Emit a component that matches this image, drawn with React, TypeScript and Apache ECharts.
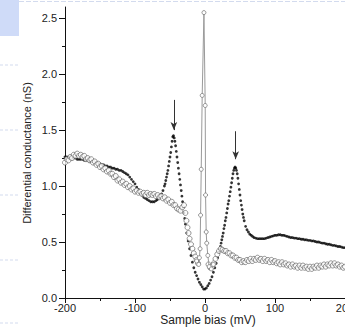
import React, { useEffect, useRef } from "react";
import * as echarts from "echarts";

// Sample bias (mV) vs differential conductance (nS)
const filledDots: [number, number][] = [
  [-200,1.26],[-197.5,1.26],[-195,1.26],[-192.5,1.25],[-190,1.25],[-187.5,1.25],[-185,1.25],[-182.5,1.24],[-180,1.24],[-177.5,1.24],
  [-175,1.24],[-172.5,1.23],[-170,1.23],[-167.5,1.23],[-165,1.22],[-162.5,1.22],[-160,1.22],[-157.5,1.21],[-155,1.21],[-152.5,1.2],
  [-150,1.2],[-147.5,1.19],[-145,1.19],[-142.5,1.18],[-140,1.18],[-137.5,1.17],[-135,1.17],[-132.5,1.16],[-130,1.16],[-127.5,1.15],
  [-125,1.15],[-122.5,1.14],[-120,1.14],[-117.5,1.13],[-115,1.12],[-112.5,1.11],[-110,1.1],[-107.5,1.08],[-105,1.06],[-102.5,1.04],
  [-100,1.02],[-97.5,0.99],[-95,0.97],[-92.5,0.94],[-90,0.92],[-87.5,0.9],[-85,0.89],[-82.5,0.88],[-80,0.87],[-77.5,0.86],
  [-75,0.86],[-72.5,0.86],[-70,0.87],[-68,0.88],[-66,0.89],[-64,0.91],[-62,0.93],[-60,0.96],[-58,1.0],[-57,1.02],
  [-56,1.05],[-55,1.08],[-54,1.11],[-53,1.14],[-52,1.18],[-51,1.22],[-50,1.26],[-49,1.3],[-48,1.35],[-47,1.4],
  [-46,1.44],[-45,1.45],[-44,1.43],[-43,1.4],[-42,1.36],[-41,1.31],[-40,1.26],[-39,1.21],[-38,1.16],[-37,1.11],
  [-36,1.06],[-35,1.01],[-34,0.96],[-33,0.91],[-32,0.86],[-31,0.81],[-30,0.76],[-29,0.71],[-28,0.66],[-26,0.58],
  [-24,0.51],[-22,0.44],[-20,0.38],[-18,0.32],[-16,0.27],[-14,0.23],[-12,0.2],[-10,0.17],[-8,0.14],[-6,0.12],
  [-4,0.1],[-2,0.08],[0,0.08],[2,0.09],[4,0.11],[6,0.13],[8,0.16],[10,0.19],[12,0.23],[14,0.27],
  [16,0.31],[18,0.36],[20,0.41],[22,0.46],[23,0.49],[24,0.52],[25,0.55],[26,0.58],[27,0.62],[28,0.65],
  [29,0.69],[30,0.72],[31,0.76],[32,0.8],[33,0.84],[34,0.87],[35,0.91],[36,0.95],[37,0.99],[38,1.03],
  [39,1.07],[40,1.11],[41,1.14],[42,1.16],[43,1.17],[44,1.16],[45,1.14],[46,1.11],[47,1.07],[48,1.02],
  [49,0.97],[50,0.92],[51,0.87],[52,0.83],[53,0.79],[54,0.75],[55,0.72],[56,0.69],[58,0.64],[60,0.61],
  [62,0.59],[64,0.57],[66,0.56],[68,0.55],[70,0.54],[72.5,0.535],[75,0.53],[77.5,0.53],[80,0.53],[82.5,0.53],
  [85,0.53],[87.5,0.535],[90,0.54],[92.5,0.545],[95,0.55],[97.5,0.555],[100,0.56],[102.5,0.56],[105,0.565],[107.5,0.565],
  [110,0.56],[112.5,0.56],[115,0.555],[117.5,0.55],[120,0.545],[122.5,0.54],[125,0.54],[127.5,0.535],[130,0.535],[132.5,0.53],
  [135,0.53],[137.5,0.525],[140,0.525],[142.5,0.52],[145,0.52],[147.5,0.515],[150,0.515],[152.5,0.51],[155,0.51],[157.5,0.505],
  [160,0.5],[162.5,0.5],[165,0.495],[167.5,0.49],[170,0.49],[172.5,0.485],[175,0.48],[177.5,0.48],[180,0.475],[182.5,0.47],
  [185,0.47],[187.5,0.465],[190,0.46],[192.5,0.46],[195,0.455],[197.5,0.45],[200,0.45],
];

const openLeft: [number, number][] = [
  [-200,1.21],[-197.5,1.24],[-195,1.23],[-192.5,1.26],[-190,1.25],[-187.5,1.28],[-185,1.27],[-182.5,1.29],[-180,1.27],[-177.5,1.28],
  [-175,1.26],[-172.5,1.27],[-170,1.24],[-167.5,1.25],[-165,1.23],[-162.5,1.24],[-160,1.21],[-157.5,1.22],[-155,1.19],[-152.5,1.2],
  [-150,1.17],[-147.5,1.18],[-145,1.15],[-142.5,1.16],[-140,1.13],[-137.5,1.14],[-135,1.11],[-132.5,1.11],[-130,1.08],[-127.5,1.09],
  [-125,1.05],[-122.5,1.06],[-120,1.03],[-117.5,1.04],[-115,1.01],[-112.5,1.02],[-110,0.99],[-107.5,1.0],[-105,0.97],[-102.5,0.98],
  [-100,0.95],[-97.5,0.96],[-95,0.94],[-92.5,0.95],[-90,0.93],[-87.5,0.94],[-85,0.92],[-82.5,0.94],[-80,0.92],[-77.5,0.93],
  [-75,0.92],[-72.5,0.93],[-70,0.91],[-67.5,0.92],[-65,0.9],[-62.5,0.91],[-60,0.89],[-57.5,0.9],[-55,0.87],[-52.5,0.88],
  [-50,0.85],[-47.5,0.86],[-45,0.83],[-42.5,0.83],[-40,0.8],[-37.5,0.79],[-35,0.78],[-32.5,0.81],[-30,0.83],[-28,0.76],
  [-26.5,0.69],[-25,0.63],[-23.5,0.58],[-22,0.53],[-20,0.48],[-18,0.44],[-16,0.4],[-14,0.37],[-12,0.34],[-10,0.31],
];

const openRight: [number, number][] = [
  [5,0.3],[7.5,0.27],[10,0.28],[12.5,0.31],[15,0.35],[17.5,0.39],[20,0.42],[22.5,0.44],[25,0.43],[27.5,0.42],
  [30,0.42],[32.5,0.4],[35,0.4],[37.5,0.38],[40,0.38],[42.5,0.36],[45,0.36],[47.5,0.34],[50,0.34],[52.5,0.32],
  [55,0.33],[57.5,0.32],[60,0.34],[62.5,0.33],[65,0.35],[67.5,0.33],[70,0.35],[72.5,0.34],[75,0.36],[77.5,0.34],
  [80,0.35],[82.5,0.33],[85,0.35],[87.5,0.33],[90,0.34],[92.5,0.32],[95,0.34],[97.5,0.32],[100,0.33],[102.5,0.31],
  [105,0.32],[107.5,0.3],[110,0.32],[112.5,0.3],[115,0.31],[117.5,0.29],[120,0.3],[122.5,0.28],[125,0.3],[127.5,0.28],
  [130,0.29],[132.5,0.27],[135,0.29],[137.5,0.27],[140,0.29],[142.5,0.27],[145,0.28],[147.5,0.26],[150,0.28],[152.5,0.26],
  [155,0.28],[157.5,0.27],[160,0.29],[162.5,0.27],[165,0.29],[167.5,0.28],[170,0.3],[172.5,0.28],[175,0.3],[177.5,0.29],
  [180,0.31],[182.5,0.29],[185,0.31],[187.5,0.29],[190,0.3],[192.5,0.28],[195,0.29],[197.5,0.27],[200,0.28],
];

const zeroBiasPeak: [number, number][] = [
  [-12,0.33],[-9,0.3],[-8,0.36],[-7,0.44],[-6.3,0.74],[-5.4,1.15],[-4,1.81],[-1.5,2.55],[0.3,1.72],[0.8,0.92],
  [1.7,0.59],[2.5,0.49],[4,0.38],[6,0.28],[9,0.26],[12,0.3],
];

// arrows marking the coherence peaks: [bias, y start, y end]
const arrowMarks: [number, number, number][] = [
  [-44.5, 1.77, 1.5],
  [43.8, 1.49, 1.24],
];

const yTicks = [0, 0.5, 1.0, 1.5, 2.0, 2.5];

const FONT = "Liberation Sans, Arial, Helvetica, sans-serif";

export default function App() {
  const ref = useRef<HTMLDivElement>(null);
  useEffect(() => {
    if (!ref.current) return;
    const chart = echarts.init(ref.current, undefined, { renderer: "svg" });
    const faint = "#d3dbee";
    const openStyle = { color: "#ffffff", borderColor: "#5a5a5a", borderWidth: 0.8 };
    chart.setOption({
      animation: false,
      backgroundColor: "#ffffff",
      textStyle: { fontFamily: FONT },
      grid: { left: 65, right: 0, top: 7, bottom: 33, containLabel: false, outerBoundsMode: "none" },
      xAxis: {
        type: "value",
        min: -200,
        max: 200,
        interval: 100,
        axisLine: { show: true, onZero: false, lineStyle: { color: "#111", width: 1 } },
        axisTick: { show: true, inside: false, length: 5, lineStyle: { color: "#111" } },
        minorTick: { show: true, splitNumber: 2, length: 3, lineStyle: { color: "#111" } },
        splitLine: { show: false },
        axisLabel: { color: "#222", fontSize: 11, margin: 4, fontFamily: FONT, hideOverlap: false },
      },
      yAxis: {
        type: "value",
        min: 0,
        max: 2.6,
        interval: 0.5,
        axisLine: { show: true, onZero: false, lineStyle: { color: "#111", width: 1 } },
        axisTick: { show: true, inside: false, length: 6, customValues: yTicks, lineStyle: { color: "#111" } },
        minorTick: { show: true, splitNumber: 2, length: 3, lineStyle: { color: "#111" } },
        splitLine: { show: false },
        axisLabel: {
          color: "#222",
          fontSize: 11,
          margin: 8,
          fontFamily: FONT,
          customValues: yTicks,
          formatter: (v: number) => v.toFixed(1),
        },
      },
      graphic: [
        { type: "rect", shape: { x: 0, y: 0, width: 19, height: 36 }, style: { fill: "#cfdbf8" }, z: 0 },
        { type: "line", shape: { x1: 19, y1: 1.5, x2: 345, y2: 1.5 }, style: { stroke: faint, lineWidth: 1, lineDash: [5, 2] } },
        { type: "line", shape: { x1: 0, y1: 65, x2: 18, y2: 65 }, style: { stroke: faint, lineWidth: 1, lineDash: [3, 2] } },
        { type: "line", shape: { x1: 0, y1: 130, x2: 18, y2: 130 }, style: { stroke: faint, lineWidth: 1, lineDash: [3, 2] } },
        { type: "line", shape: { x1: 0, y1: 195, x2: 18, y2: 195 }, style: { stroke: faint, lineWidth: 1, lineDash: [3, 2] } },
        { type: "line", shape: { x1: 0, y1: 260, x2: 18, y2: 260 }, style: { stroke: faint, lineWidth: 1, lineDash: [3, 2] } },
        { type: "line", shape: { x1: 0, y1: 323, x2: 18, y2: 323 }, style: { stroke: faint, lineWidth: 1, lineDash: [3, 2] } },
        {
          type: "text",
          x: 27,
          y: 153,
          rotation: Math.PI / 2,
          style: {
            text: "Differential conductance (nS)",
            fontSize: 11,
            fontFamily: FONT,
            fill: "#222",
            align: "center",
            verticalAlign: "middle",
          },
        },
        {
          type: "text",
          x: 208,
          y: 320,
          style: {
            text: "Sample bias (mV)",
            fontSize: 12,
            fontFamily: FONT,
            fill: "#222",
            align: "center",
            verticalAlign: "middle",
          },
        },
      ],
      series: [
        {
          name: "filled",
          type: "scatter",
          data: filledDots,
          symbol: "circle",
          symbolSize: 2.8,
          itemStyle: { color: "#000" },
          z: 2,
          markLine: {
            silent: true,
            symbol: ["none", "arrow"],
            symbolSize: [5, 8],
            label: { show: false },
            lineStyle: { color: "#333", width: 1, type: "solid" },
            data: arrowMarks.map(([x, y0, y1]) => [{ coord: [x, y0] }, { coord: [x, y1] }]),
          },
        },
        {
          name: "openLeft",
          type: "scatter",
          data: openLeft,
          symbol: "circle",
          symbolSize: 5,
          itemStyle: openStyle,
          z: 3,
        },
        {
          name: "openRight",
          type: "scatter",
          data: openRight,
          symbol: "circle",
          symbolSize: 5,
          itemStyle: openStyle,
          z: 3,
        },
        {
          name: "zeroBias",
          type: "line",
          data: zeroBiasPeak,
          symbol: "circle",
          symbolSize: 4,
          showSymbol: true,
          lineStyle: { color: "#9a9a9a", width: 1 },
          itemStyle: { color: "#fff", borderColor: "#777", borderWidth: 0.8 },
          z: 4,
        },
      ],
    });
    return () => chart.dispose();
  }, []);
  return (
    <div
      ref={ref}
      style={{ position: "fixed", left: 0, top: 0, width: 345, height: 331, background: "#fff" }}
    />
  );
}
